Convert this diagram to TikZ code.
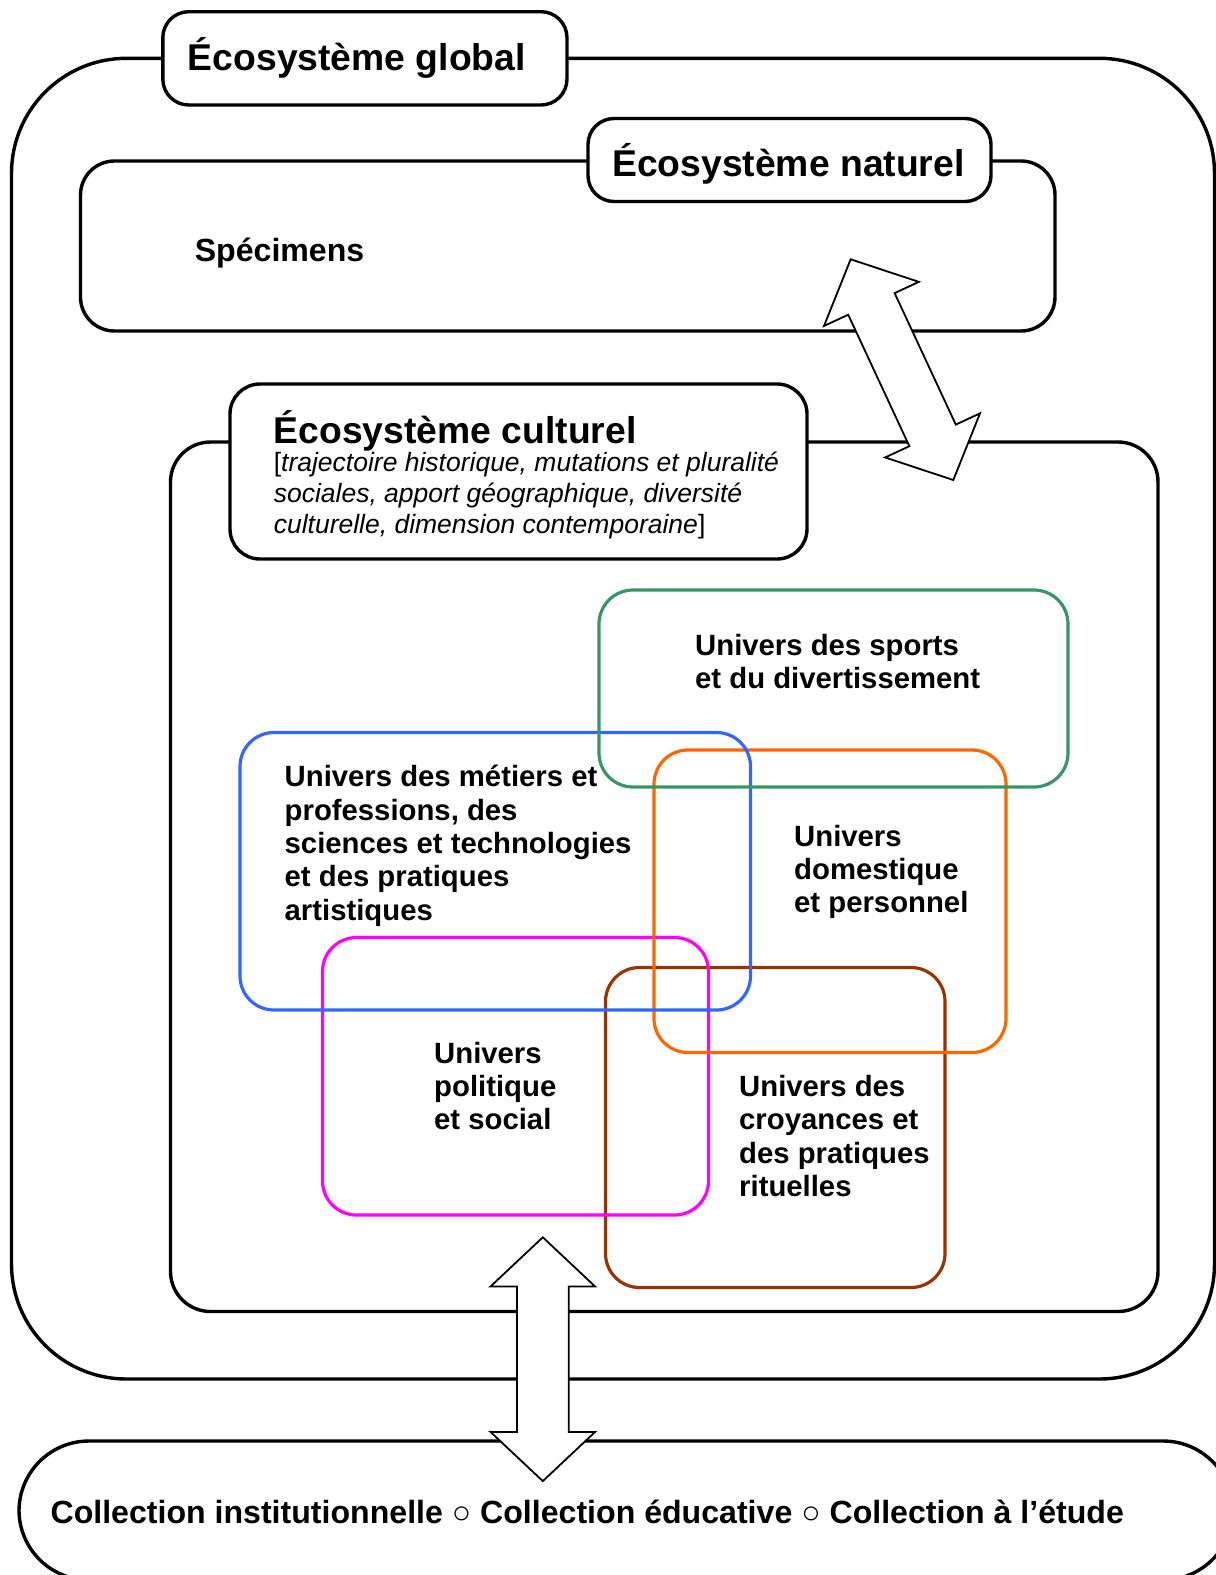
\documentclass[tikz,border=0pt]{standalone}
\usepackage{fontspec}
\setmainfont{Liberation Sans}
\definecolor{zgreen}{RGB}{56,150,102}
\definecolor{zblue}{RGB}{51,102,255}
\definecolor{zorange}{RGB}{255,102,0}
\definecolor{zmagenta}{RGB}{255,0,255}
\definecolor{zbrown}{RGB}{153,51,0}
\begin{document}
\begin{tikzpicture}[x=1pt,y=-1pt,
  frame/.style={draw=black, line width=3.4pt, rounded corners=#1, inner sep=0pt},
  titlebox/.style={frame=#1, fill=white},
  zone/.style={draw=#1, line width=3.2pt, rounded corners=34pt, inner sep=0pt},
  ttl/.style={anchor=base west, inner sep=0pt, font=\bfseries\fontsize{37.3}{44}\selectfont},
  big/.style={anchor=base west, inner sep=0pt, font=\bfseries\fontsize{32.1}{38}\selectfont},
  lbl/.style={anchor=base west, inner sep=0pt, align=left, font=\bfseries\fontsize{29.3}{33.4}\selectfont},
  ital/.style={anchor=base west, inner sep=0pt, align=left, font=\fontsize{26.5}{30.8}\selectfont},
  blockarrow/.style={draw=black, fill=white, line width=1.8pt, line join=miter}
]
\useasboundingbox (0,0) rectangle (1216,1575);

% global ecosystem
\node[frame=115pt, minimum width=1203pt, minimum height=1320.7pt] (global) at (613,718.65) {};
\node[titlebox=26pt, minimum width=404.2pt, minimum height=93.3pt] (globaltitle) at (364.9,58.35) {};
\node[ttl] (globaltxt) at (187.7,70) {Écosystème global};

% natural ecosystem
\node[frame=34pt, minimum width=974.5pt, minimum height=170pt] (natural) at (567.75,246) {};
\node[titlebox=26pt, minimum width=403pt, minimum height=83pt] (naturaltitle) at (789.5,160) {};
\node[ttl] (naturaltxt) at (612,176.7) {Écosystème naturel};
\node[big] (specimens) at (194.6,261.7) {Spécimens};

% cultural ecosystem
\node[frame=40pt, minimum width=987.5pt, minimum height=869.5pt] (cultural) at (664.25,876.75) {};
\node[titlebox=30pt, minimum width=577pt, minimum height=175pt] (culturaltitle) at (518.5,471.5) {};
\node[ttl] (culturaltxt) at (273.6,443.3) {Écosystème culturel};
\node[ital] (culturaldesc) at (273.6,533.3) {[\textit{trajectoire historique, mutations et pluralité}\\\textit{sociales, apport géographique, diversité}\\\textit{culturelle, dimension contemporaine}]};

% universes
\node[zone=zbrown, minimum width=339.5pt, minimum height=320pt] (brown) at (775.25,1127.5) {};
\node[zone=zmagenta, minimum width=386pt, minimum height=277.5pt] (magenta) at (515.5,1076.25) {};
\node[zone=zorange, minimum width=352pt, minimum height=302.5pt] (orange) at (830,901.25) {};
\node[zone=zblue, minimum width=510.5pt, minimum height=277.5pt] (blue) at (495.25,871.25) {};
\node[zone=zgreen, minimum width=469pt, minimum height=197pt] (green) at (833.5,688.5) {};

% labels (anchored at the baseline of their last line)
\node[lbl] (sports) at (695,688.4) {Univers des sports\\et du divertissement};
\node[lbl] (metiers) at (284.5,920.3) {Univers des métiers et\\professions, des\\sciences et technologies\\et des pratiques\\artistiques};
\node[lbl] (domestique) at (794,912.8) {Univers\\domestique\\et personnel};
\node[lbl] (politique) at (434,1129.8) {Univers\\politique\\et social};
\node[lbl] (croyances) at (739,1196.7) {Univers des\\croyances et\\des pratiques\\rituelles};

% diagonal double arrow between natural and cultural ecosystems
\begin{scope}[shift={(902,369.65)}, rotate=-65.06]
\draw[blockarrow] (121.7,0) -- (72.5,52.3) -- (72.5,25.6) -- (-72.5,25.6) -- (-72.5,52.3) -- (-121.7,0)
  -- (-72.5,-52.3) -- (-72.5,-25.6) -- (72.5,-25.6) -- (72.5,-52.3) -- cycle;
\end{scope}

% collections
\node[frame=70pt, minimum width=1214pt, minimum height=139pt] (collection) at (626,1510.5) {};
\node[big] (collectiontxt) at (50.4,1523.3) {Collection institutionnelle ○ Collection éducative ○ Collection à l’étude};

% vertical double arrow between cultural ecosystem and collections
\begin{scope}[shift={(542.8,1359.2)}, rotate=90]
\draw[blockarrow] (121.9,0) -- (72.7,52.3) -- (72.7,25.9) -- (-72.7,25.9) -- (-72.7,52.3) -- (-121.9,0)
  -- (-72.7,-52.3) -- (-72.7,-25.9) -- (72.7,-25.9) -- (72.7,-52.3) -- cycle;
\end{scope}
\end{tikzpicture}
\end{document}
